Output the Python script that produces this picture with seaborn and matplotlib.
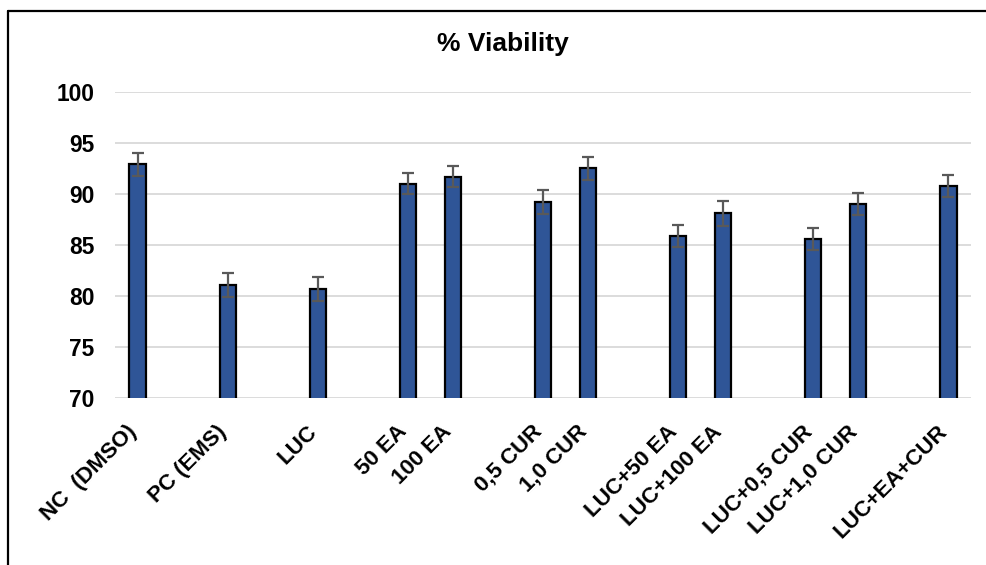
import matplotlib
matplotlib.use("Agg")
import matplotlib.pyplot as plt
from matplotlib.lines import Line2D
import seaborn as sns
import pandas as pd

# Data
categories = ["NC  (DMSO)", "PC (EMS)", "LUC", "50 EA", "100 EA", "0,5 CUR", "1,0 CUR",
              "LUC+50 EA", "LUC+100 EA", "LUC+0,5 CUR", "LUC+1,0 CUR", "LUC+EA+CUR"]
viability = [92.9, 81.1, 80.7, 91.0, 91.7, 89.2, 92.5, 85.9, 88.1, 85.6, 89.0, 90.8]
errors = [1.1, 1.2, 1.2, 1.05, 1.05, 1.2, 1.1, 1.1, 1.2, 1.1, 1.1, 1.1]
# category order on the axis, with empty slots between groups
order = ["NC  (DMSO)", "_g1", "PC (EMS)", "_g2", "LUC", "_g3", "50 EA", "100 EA", "_g4",
         "0,5 CUR", "1,0 CUR", "_g5", "LUC+50 EA", "LUC+100 EA", "_g6",
         "LUC+0,5 CUR", "LUC+1,0 CUR", "_g7", "LUC+EA+CUR"]
yticks = [70, 75, 80, 85, 90, 95, 100]

df = pd.DataFrame({"cat": categories, "val": viability, "err": errors})

sns.set_theme(style="white")
plt.rcParams["font.family"] = ["Liberation Sans", "DejaVu Sans"]
plt.rcParams["font.weight"] = "bold"

fig = plt.figure(figsize=(9.87, 5.65), dpi=100)
ax = fig.add_axes([0.1165, 0.2956, 0.9838 - 0.1165, 0.8372 - 0.2956])

sns.barplot(data=df, x="cat", y="val", order=order, color="#2F5597",
            edgecolor="black", linewidth=1.6, width=0.36, errorbar=None,
            saturation=1, ax=ax, zorder=3)

xpos = [order.index(c) for c in df["cat"]]
ax.errorbar(xpos, df["val"], yerr=df["err"], fmt="none", ecolor="#595959",
            elinewidth=1.6, capsize=4.5, capthick=1.6, zorder=4)

ax.set_ylim(70, 100)
ax.set_xlim(-0.5, len(order) - 0.5)
ax.set_yticks(yticks)
ax.set_yticklabels([str(t) for t in yticks], fontsize=16.4, fontweight="bold")
ax.yaxis.grid(True, color="#d9d9d9", linewidth=1.3, zorder=0)
ax.set_axisbelow(True)
ax.set_xticks(range(len(order)))
ax.set_xticklabels(["" if o.startswith("_g") else o for o in order],
                   rotation=45, ha="right", va="baseline", rotation_mode="anchor",
                   fontsize=16, fontweight="bold")
ax.tick_params(axis="both", length=0, colors="black")
ax.tick_params(axis="x", pad=25)
ax.tick_params(axis="y", pad=15)
for s in ax.spines.values():
    s.set_visible(False)
ax.set_xlabel("")
ax.set_ylabel("")

fig.text(0.510, 0.922, "% Viability", ha="center", va="center",
         fontsize=19, fontweight="bold", color="black")

# outer frame lines (top and left)
fig.add_artist(Line2D([0.0081, 1.0], [0.9805, 0.9805], color="black", linewidth=1.6,
                      transform=fig.transFigure))
fig.add_artist(Line2D([0.0081, 0.0081], [0.0, 0.9805], color="black", linewidth=1.6,
                      transform=fig.transFigure))

fig.savefig("out.png", dpi=100, facecolor="white")
